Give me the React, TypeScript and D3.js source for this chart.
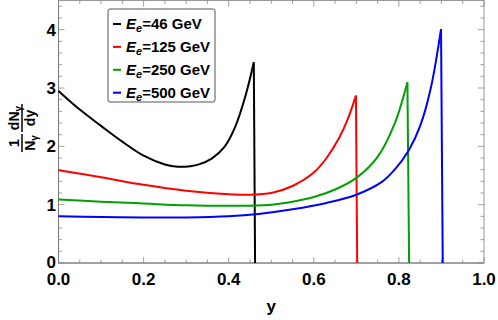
import React, { useEffect, useRef } from "react";
import * as d3 from "d3";

const y46 = [0, 0.05, 0.1, 0.15, 0.2, 0.25, 0.28, 0.31, 0.33, 0.36, 0.39, 0.415, 0.44, 0.459];
const v46 = [2.95, 2.63, 2.35, 2.08, 1.84, 1.69, 1.65, 1.66, 1.69, 1.79, 1.99, 2.33, 2.88, 3.44];
const y125 = [0, 0.1, 0.2, 0.3, 0.4, 0.45, 0.5, 0.55, 0.6, 0.63, 0.66, 0.68, 0.699];
const v125 = [1.59, 1.47, 1.34, 1.24, 1.18, 1.17, 1.2, 1.32, 1.55, 1.8, 2.15, 2.47, 2.87];
const y250 = [0, 0.1, 0.2, 0.3, 0.4, 0.5, 0.55, 0.6, 0.65, 0.7, 0.75, 0.79, 0.82];
const v250 = [1.09, 1.05, 1.02, 0.99, 0.98, 1.0, 1.05, 1.13, 1.26, 1.46, 1.82, 2.39, 3.1];
const y500 = [0, 0.1, 0.2, 0.3, 0.4, 0.47, 0.55, 0.63, 0.7, 0.76, 0.79, 0.823, 0.85, 0.875, 0.899];
const v500 = [0.8, 0.79, 0.78, 0.78, 0.8, 0.84, 0.92, 1.03, 1.17, 1.39, 1.6, 1.93, 2.35, 3.0, 4.01];
const yEnds = [0.462, 0.702, 0.824, 0.903];

const labels = ["46", "125", "250", "500"];
const colors = ["#000000", "#ff0000", "#00a000", "#0000ff"];
const xTicks = [0, 0.2, 0.4, 0.6, 0.8, 1.0];
const yTicks = [0, 1, 2, 3, 4];

const App = () => {
  const svgRef = useRef(null);

  useEffect(() => {
    const w = 498;
    const h = 320;
    const svg = d3.select(svgRef.current).attr("width", w).attr("height", h);
    svg.selectAll("*").remove();

    const x = d3.scaleLinear().domain([0, 1]).range([58.5, 484]);
    const y = d3.scaleLinear().domain([0, 4.5]).range([263, 0.5]);
    const font = "'Liberation Sans', Arial, sans-serif";

    // frame
    svg
      .append("rect")
      .attr("x", x(0))
      .attr("y", y(4.5))
      .attr("width", x(1) - x(0))
      .attr("height", y(0) - y(4.5))
      .attr("fill", "none")
      .attr("stroke", "#999");
    svg.append("line").attr("x1", x(0)).attr("x2", x(0)).attr("y1", y(0)).attr("y2", y(4.5)).attr("stroke", "#777");
    svg.append("line").attr("x1", x(0)).attr("x2", x(1)).attr("y1", y(0)).attr("y2", y(0)).attr("stroke", "#777");

    // ticks, inward on all four sides
    const g = svg.append("g").attr("stroke", "#888").attr("stroke-width", 0.8);
    d3.range(0, 1.0001, 0.05).forEach((t, i) => {
      const len = i % 4 === 0 ? 6 : 3.5;
      g.append("line").attr("x1", x(t)).attr("x2", x(t)).attr("y1", y(0)).attr("y2", y(0) - len);
      g.append("line").attr("x1", x(t)).attr("x2", x(t)).attr("y1", y(4.5)).attr("y2", y(4.5) + len);
    });
    d3.range(0, 4.5001, 0.2).forEach((t, i) => {
      const len = i % 5 === 0 ? 6 : 3.5;
      g.append("line").attr("x1", x(0)).attr("x2", x(0) + len).attr("y1", y(t)).attr("y2", y(t));
      g.append("line").attr("x1", x(1)).attr("x2", x(1) - len).attr("y1", y(t)).attr("y2", y(t));
    });

    // tick labels
    svg
      .selectAll(".xt")
      .data(xTicks)
      .join("text")
      .attr("x", (d) => x(d))
      .attr("y", 285)
      .attr("text-anchor", "middle")
      .style("font", `bold 17px ${font}`)
      .text((d) => d.toFixed(1));
    svg
      .selectAll(".yt")
      .data(yTicks)
      .join("text")
      .attr("x", 56)
      .attr("y", (d) => (d === 0 ? y(d) + 4.5 : y(d) + 6))
      .attr("text-anchor", "end")
      .style("font", `bold 17px ${font}`)
      .text((d) => d);

    svg
      .append("text")
      .attr("x", x(0.5))
      .attr("y", 312)
      .attr("text-anchor", "middle")
      .style("font", `bold 17px ${font}`)
      .text("y");

    // y label: 1/Nγ dNγ/dy
    const yl = svg.append("g").attr("transform", "translate(22,131) rotate(-90)").style("font", `bold 14px ${font}`);
    const frac = (cx, half, num, den) => {
      yl.append("line").attr("x1", cx - half).attr("x2", cx + half).attr("y1", 0).attr("y2", 0).attr("stroke", "#000").attr("stroke-width", 1.5);
      const tn = yl.append("text").attr("x", cx).attr("y", -3).attr("text-anchor", "middle");
      num(tn);
      const td = yl.append("text").attr("x", cx).attr("y", 13).attr("text-anchor", "middle");
      den(td);
    };
    const nGamma = (t, pre) => {
      t.append("tspan").text(pre + "N");
      t.append("tspan").attr("dy", 3).style("font-size", "10px").text("γ");
    };
    frac(-12, 9, (t) => t.text("1"), (t) => nGamma(t, ""));
    frac(13, 14, (t) => nGamma(t, "d"), (t) => t.text("dy"));

    // curves
    const series = [
      [y46, v46],
      [y125, v125],
      [y250, v250],
      [y500, v500],
    ];
    const line = d3
      .line()
      .x((d) => x(d[0]))
      .y((d) => y(d[1]))
      .curve(d3.curveCatmullRom.alpha(0.5));
    series.forEach(([ys, vs], i) => {
      const pts = ys.map((d, j) => [d, vs[j]]);
      svg.append("path").attr("d", line(pts)).attr("fill", "none").attr("stroke", colors[i]).attr("stroke-width", 2);
      const last = pts[pts.length - 1];
      svg
        .append("path")
        .attr("d", d3.line().x((d) => x(d[0])).y((d) => y(d[1]))([last, [yEnds[i], 0]]))
        .attr("fill", "none")
        .attr("stroke", colors[i])
        .attr("stroke-width", 2);
    });

    // legend
    const lg = svg.append("g");
    lg.append("rect")
      .attr("x", 108)
      .attr("y", 9)
      .attr("width", 107)
      .attr("height", 93)
      .attr("rx", 2)
      .attr("fill", "#fff")
      .attr("stroke", "#555");
    labels.forEach((lab, i) => {
      const cy = 24 + i * 22.9;
      lg.append("line").attr("x1", 113).attr("x2", 121).attr("y1", cy).attr("y2", cy).attr("stroke", colors[i]).attr("stroke-width", 2);
      const t = lg.append("text").attr("x", 126).attr("y", cy + 5).style("font", `bold 15px ${font}`);
      t.append("tspan").style("font-style", "italic").text("E");
      t.append("tspan").attr("dy", 3).style("font-style", "italic").style("font-size", "11px").text("e");
      t.append("tspan").attr("dy", -3).text(`=${lab} GeV`);
    });
  }, []);

  return (
    <div>
      <svg ref={svgRef} style={{ position: "absolute", left: 0, top: 0, background: "#fff" }}></svg>
    </div>
  );
};

export default App;
